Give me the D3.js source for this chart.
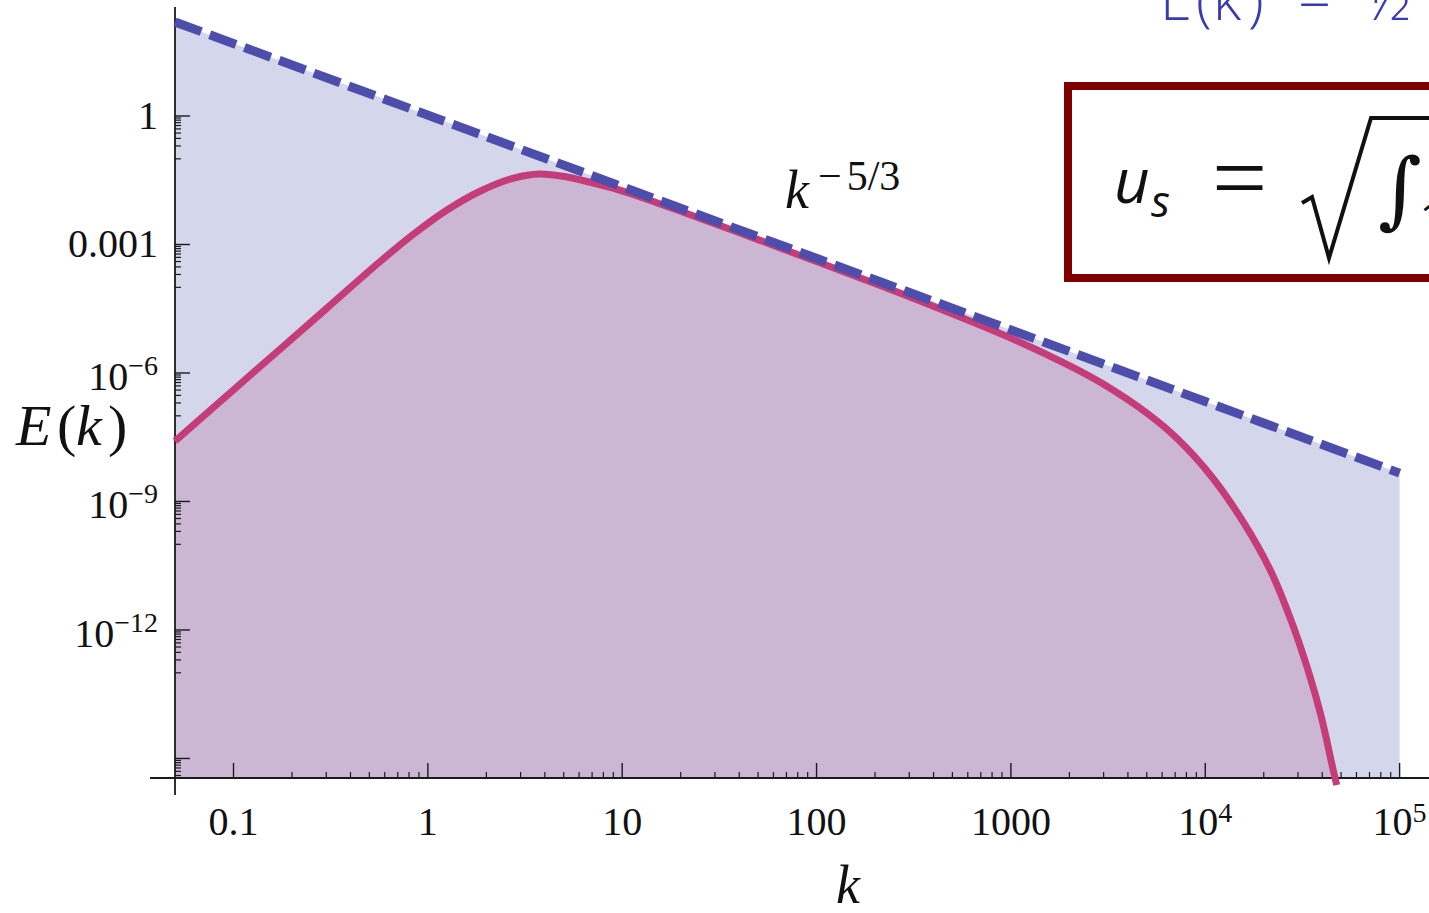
<!DOCTYPE html>
<html>
<head>
<meta charset="utf-8">
<script src="https://cdn.jsdelivr.net/npm/d3@7"></script>
<style>
  html, body { margin: 0; padding: 0; background: #ffffff; }
  svg { display: block; }
</style>
</head>
<body>
<svg id="chart" width="1429" height="913"></svg>
<script>
// ---------------- data ----------------
// Kolmogorov reference line k^(-5/3)
const dashK = [0.05, 100000];
const dashE = [157, 4.6e-9];

// model spectrum E(k)
const specK = [0.05, 0.1, 0.3, 0.567, 0.839, 1.255, 1.854, 2.74, 3.78, 5.2, 6.28, 8.97, 13.4, 25, 50, 100,
               300, 1000, 2000, 2900, 5000, 7230, 10700, 15800, 21700, 27500, 33700, 39400, 45900, 47500];
const specE = [2.57e-8, 4.05e-7, 3.16e-5, 3.98e-4, 1.71e-3, 6.38e-3, 1.75e-2, 3.52e-2, 4.43e-2, 3.77e-2,
               3.12e-2, 2.06e-2, 1.14e-2, 4.13e-3, 1.30e-3, 3.99e-4, 6.03e-5, 6.53e-6, 1.49e-6, 5.96e-7,
               1.16e-7, 2.84e-8, 4.0e-9, 3.16e-10, 2.40e-11, 1.78e-12, 1.20e-13, 1.0e-14, 4.57e-16, 2.4e-16];

// tick values and labels
const xTicks    = [0.1, 1, 10, 100, 1000, 1e4, 1e5];
const xTickBase = ["0.1", "1", "10", "100", "1000", "10", "10"];
const xTickSup  = ["", "", "", "", "", "4", "5"];

const yTicks    = [1, 1e-3, 1e-6, 1e-9, 1e-12, 1e-15];
const yTickBase = ["1", "0.001", "10", "10", "10", ""];
const yTickSup  = ["", "", "\u22126", "\u22129", "\u221212", ""];

// ---------------- layout ----------------
const svg = d3.select("#chart");
const X0 = 175, X1 = 1399.6, Y0 = 778, Y1 = 10;
const x = d3.scaleLog().domain([0.05, 1e5]).range([X0, X1]);
const y = d3.scaleLog().domain([Math.pow(10, -15.456), Math.pow(10, 2.475)]).range([Y0, Y1]);

const dashData = dashK.map((k, i) => ({k, e: dashE[i]}));
const specData = specK.map((k, i) => ({k, e: specE[i]}));

const serif = "'Liberation Serif', 'Times New Roman', serif";
const smooth = d3.curveCatmullRom.alpha(0.5);

// fills
svg.append("path")
  .datum(dashData)
  .attr("d", d3.area().x(d => x(d.k)).y0(Y0).y1(d => y(d.e)))
  .attr("fill", "#d4d6ec");

svg.append("path")
  .datum(specData)
  .attr("d", d3.area().curve(smooth).x(d => x(d.k)).y0(Y0).y1(d => Math.min(Y0, y(d.e))))
  .attr("fill", "#cbb6d4");

// ---------------- axes ----------------
const axes = svg.append("g").attr("stroke", "#1a1a1a").attr("fill", "none");
// x minor + major ticks (pointing up into plot)
const xMinor = [];
for (let p = -1; p < 5; p++) for (let m = 2; m <= 9; m++) xMinor.push(m * Math.pow(10, p));
axes.selectAll(".xminor").data(xMinor).enter().append("line")
  .attr("x1", d => x(d)).attr("x2", d => x(d)).attr("y1", Y0).attr("y2", Y0 - 6).attr("stroke-width", 1.2);
axes.selectAll(".xmajor").data(xTicks).enter().append("line")
  .attr("x1", d => x(d)).attr("x2", d => x(d)).attr("y1", Y0).attr("y2", Y0 - 15).attr("stroke-width", 1.4);

// y minor + major ticks (pointing right into plot)
const yMinor = [];
yTicks.forEach(t => { for (let m = 1; m <= 9; m++) { const v = m * t / 10; if (y(v) <= Y0) yMinor.push(v); } });
axes.selectAll(".yminor").data(yMinor).enter().append("line")
  .attr("x1", X0).attr("x2", X0 + 6).attr("y1", d => y(d)).attr("y2", d => y(d)).attr("stroke-width", 1.2);
axes.selectAll(".ymajor").data(yTicks).enter().append("line")
  .attr("x1", X0).attr("x2", X0 + 15).attr("y1", d => y(d)).attr("y2", d => y(d)).attr("stroke-width", 1.4);

// axis lines
axes.append("line").attr("x1", 150).attr("x2", 1429).attr("y1", Y0).attr("y2", Y0).attr("stroke-width", 1.8);
axes.append("line").attr("x1", X0).attr("x2", X0).attr("y1", 7).attr("y2", 795).attr("stroke-width", 1.8);

// tick labels
const xl = svg.append("g").attr("font-family", serif).attr("fill", "#111");
xTicks.forEach((t, i) => {
  const tx = xl.append("text").attr("x", x(t)).attr("y", 835).attr("text-anchor", "middle").attr("font-size", 40);
  tx.append("tspan").text(xTickBase[i]);
  if (xTickSup[i]) tx.append("tspan").attr("dy", -13).attr("font-size", 28).text(xTickSup[i]);
});
yTicks.forEach((t, i) => {
  if (!yTickBase[i]) return;
  const hasSup = !!yTickSup[i];
  const tx = xl.append("text").attr("x", 158).attr("y", y(t) + (hasSup ? 17 : 13))
    .attr("text-anchor", "end").attr("font-size", 40);
  tx.append("tspan").text(yTickBase[i]);
  if (hasSup) tx.append("tspan").attr("dy", -15).attr("font-size", 28).text(yTickSup[i]);
});

// ---------------- curves ----------------
svg.append("path")
  .datum(specData)
  .attr("d", d3.line().curve(smooth).x(d => x(d.k)).y(d => y(d.e)))
  .attr("fill", "none").attr("stroke", "#c43c78").attr("stroke-width", 7).attr("stroke-linejoin", "round");

svg.append("path")
  .datum(dashData)
  .attr("d", d3.line().x(d => x(d.k)).y(d => y(d.e)))
  .attr("fill", "none").attr("stroke", "#4d4dab").attr("stroke-width", 9).attr("stroke-dasharray", "28 9");

// ---------------- labels ----------------
const el = svg.append("text").attr("y", 445).attr("font-family", serif).attr("font-size", 58).attr("fill", "#111");
el.append("tspan").attr("x", 16).attr("font-style", "italic").text("E");
el.append("tspan").attr("x", 57).text("(");
el.append("tspan").attr("x", 76).attr("font-style", "italic").text("k");
el.append("tspan").attr("x", 108).text(")");

svg.append("text").attr("x", 836).attr("y", 903).attr("font-family", serif).attr("font-size", 54)
  .attr("font-style", "italic").attr("fill", "#111").text("k");

const ka = svg.append("text").attr("x", 785).attr("y", 208).attr("font-family", serif).attr("fill", "#111");
ka.append("tspan").attr("font-size", 54).attr("font-style", "italic").text("k");
ka.append("tspan").attr("x", 818).attr("y", 190).attr("font-size", 42).text("\u2212");
ka.append("tspan").attr("dx", 5).attr("font-size", 42).text("5/3");

// top-right partial formula
const tf = svg.append("text").attr("y", 20).attr("font-family", "'Open Sans', sans-serif")
  .attr("font-weight", 300).attr("font-size", 58).attr("fill", "#3b3bb0");
tf.append("tspan").attr("x", 1160).text("E");
tf.append("tspan").attr("x", 1196).text("(");
tf.append("tspan").attr("x", 1213).text("k");
tf.append("tspan").attr("x", 1248).text(")");
tf.append("tspan").attr("x", 1298).text("=");
tf.append("tspan").attr("x", 1366).text("\u00BD");

// boxed formula
svg.append("rect").attr("x", 1068).attr("y", 86).attr("width", 420).attr("height", 192)
  .attr("fill", "#ffffff").attr("stroke", "#7f0000").attr("stroke-width", 8);
svg.append("text").attr("x", 1114).attr("y", 203).attr("font-family", "'Open Sans', sans-serif")
  .attr("font-style", "italic").attr("font-size", 62).attr("fill", "#111").text("u");
svg.append("text").attr("x", 1151).attr("y", 217).attr("font-family", "'Open Sans', sans-serif")
  .attr("font-style", "italic").attr("font-size", 44).attr("fill", "#111").text("s");
svg.append("text").attr("x", 1212).attr("y", 210)
  .attr("font-family", serif).attr("font-size", 98).attr("fill", "#111").text("=");
svg.append("path")
  .attr("d", "M1302,203 L1312,197 L1329,258 L1371,118 L1440,118")
  .attr("fill", "none").attr("stroke", "#111").attr("stroke-width", 4).attr("stroke-linejoin", "miter");
svg.append("text").attr("x", 1378).attr("y", 218).attr("font-family", "'DejaVu Serif', serif")
  .attr("font-size", 84).attr("fill", "#111").text("\u222B");
svg.append("text").attr("x", 1420).attr("y", 232).attr("font-family", "'Open Sans', sans-serif")
  .attr("font-size", 40).attr("fill", "#111").text("1");
</script>
</body>
</html>
